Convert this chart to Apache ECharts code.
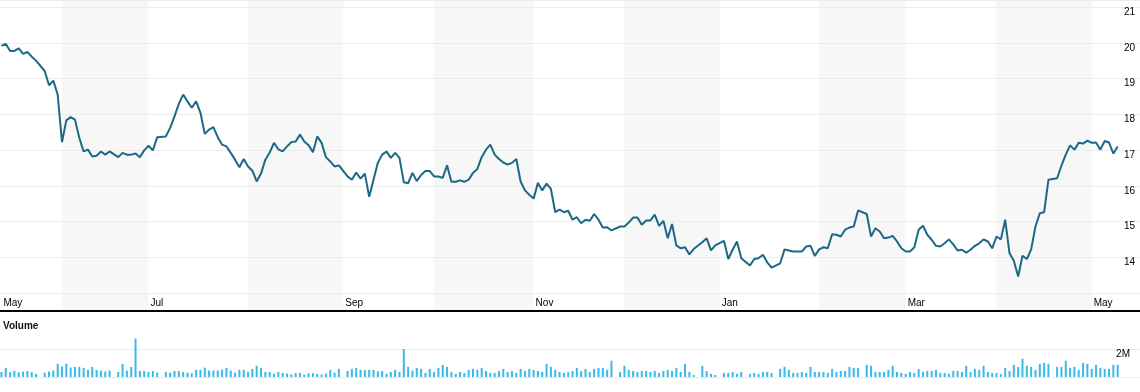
<!DOCTYPE html>
<html><head><meta charset="utf-8">
<script src="https://cdn.jsdelivr.net/npm/echarts@6/dist/echarts.min.js"></script>
<style>html,body{margin:0;padding:0;background:#fff}#c{width:1140px;height:392px}</style>
</head><body><div id="c"></div>
<script>
// x positions are weekday indices starting 2024-05-14 (holidays are null)
const shadedMonths = [[14,34],[57,79],[100,123],[144,166],[189,209],[230,252]];
const monthLabelIdx = [0,34,79,123,166,209,252];
const monthLabels = ['May','Jul','Sep','Nov','Jan','Mar','May'];
const priceTicks = [14,15,16,17,18,19,20,21];
const volumeTicks = {2: '2M'};

const price = [
19.91,19.97,19.77,19.77,19.84,19.69,19.74,19.61,19.50,null,
19.21,18.81,18.94,18.55,17.22,17.83,17.92,17.85,17.34,16.96,
17.01,16.82,16.84,16.96,16.87,16.96,null,16.80,16.92,16.87,
16.87,16.90,16.80,16.99,17.12,16.99,17.36,null,17.38,17.62,
17.94,18.29,18.55,18.36,18.18,18.36,18.04,17.45,17.57,17.64,
17.36,17.15,17.10,16.92,16.73,16.52,16.75,16.54,16.42,16.12,
16.34,16.73,16.93,17.20,17.02,16.96,17.10,17.22,17.24,17.43,
17.24,17.13,16.94,17.38,17.20,16.80,16.68,16.54,16.57,null,
16.26,16.17,16.37,16.20,16.34,15.69,16.17,16.64,16.87,16.96,
16.78,16.92,16.78,16.10,16.07,16.36,16.13,16.30,16.41,16.41,
16.26,16.26,16.22,16.57,16.11,16.11,16.15,16.11,16.17,16.36,
16.47,16.80,17.01,17.15,16.87,16.75,16.65,16.59,16.64,16.75,
16.12,15.87,15.75,15.64,16.08,15.87,16.06,15.91,15.26,15.33,
15.26,15.30,15.05,15.12,14.95,15.05,15.02,15.21,15.05,14.83,
14.84,14.75,null,14.86,14.86,14.97,15.11,15.11,14.91,15.03,
15.03,15.19,14.88,15.02,14.53,14.93,14.33,14.25,14.28,14.08,
14.23,null,14.42,14.53,14.19,14.33,null,14.46,13.95,14.21,
14.44,13.97,null,13.77,13.95,13.97,14.07,13.86,13.71,null,
13.83,14.22,14.19,14.16,14.16,14.16,14.30,14.32,14.04,14.22,
14.28,14.25,14.64,14.63,14.58,14.77,14.83,14.86,15.31,null,
15.21,14.58,14.81,14.72,14.53,14.55,14.60,14.44,14.25,14.16,
14.16,14.28,14.77,14.88,14.63,14.49,14.32,14.30,14.39,14.50,
14.36,14.19,14.21,14.13,14.21,14.32,14.39,14.50,14.44,14.25,
14.58,14.50,15.05,14.11,13.90,13.46,14.04,13.95,14.22,14.86,
15.23,15.26,16.17,null,16.21,16.56,16.87,17.13,17.01,17.20,
17.18,17.26,17.20,17.21,17.01,17.25,17.21,16.90,17.10
];

// volume in millions
const volume = [
0.36,0.65,0.34,0.43,0.34,0.39,0.43,0.36,0.22,null,
0.31,0.39,0.46,0.94,0.75,0.96,0.67,0.72,0.72,0.65,
0.51,0.72,0.51,0.46,0.39,0.46,null,0.36,0.94,0.46,
0.72,2.75,0.43,0.43,0.36,0.43,0.31,null,0.36,0.31,
0.43,0.43,0.36,0.31,0.27,0.51,0.51,0.67,0.46,0.46,
0.46,0.53,0.65,0.46,0.31,0.51,0.51,0.36,0.58,0.80,
0.65,0.36,0.36,0.24,0.36,0.29,0.24,0.19,0.29,0.29,
0.17,0.27,0.27,0.22,0.17,0.24,0.51,0.31,0.58,null,
0.43,0.58,0.65,0.51,0.51,0.51,0.51,0.41,0.43,0.22,
0.36,0.51,0.36,2.00,0.72,0.46,0.65,0.58,0.29,0.58,
0.36,0.65,0.87,0.72,0.36,0.22,0.36,0.29,0.51,0.58,
0.51,0.65,0.43,0.29,0.29,0.43,0.58,0.36,0.43,0.29,
0.58,0.43,0.58,0.51,0.43,0.36,0.94,0.72,0.51,0.36,
0.29,0.36,0.43,0.65,0.43,0.58,0.36,0.58,0.65,0.65,
0.51,1.16,null,0.36,0.80,0.51,0.43,0.36,0.43,0.43,
0.36,0.43,0.29,0.43,0.51,0.43,0.65,0.36,0.94,0.36,
0.14,null,0.80,0.43,0.22,0.14,null,0.29,0.29,0.36,
0.22,0.36,null,0.22,0.29,0.22,0.36,0.36,0.29,null,
0.58,0.72,0.51,0.29,0.29,0.36,0.29,0.72,0.36,0.36,
0.36,0.29,0.58,0.36,0.43,0.43,0.72,0.65,0.65,null,
0.87,0.80,0.36,0.36,0.36,0.51,0.80,0.36,0.29,0.22,
0.36,0.29,0.58,0.36,0.43,0.43,0.51,0.29,0.29,0.22,
0.43,0.43,0.36,0.80,0.36,0.58,0.51,0.80,0.36,0.29,
0.29,0.22,0.65,0.43,0.87,0.72,1.30,0.80,0.72,0.51,
0.94,1.01,0.94,null,0.72,0.72,1.16,0.65,0.72,0.51,
1.01,0.94,0.58,0.87,0.65,0.58,0.58,0.87,0.87
];

const XMIN = -0.33, XMAX = 263.16;
const FONT = '"Liberation Sans", Arial, sans-serif';
const hiddenX = (g) => ({gridIndex:g,type:'value',min:XMIN,max:XMAX,show:false});

const chart = echarts.init(document.getElementById('c'), null, {renderer:'canvas'});
chart.setOption({
  animation:false,
  textStyle:{fontFamily:FONT},
  title:{text:'Volume',left:3,top:321,padding:0,textStyle:{fontFamily:FONT,fontSize:10,fontWeight:'bold',color:'#111'}},
  grid:[
    {left:0,right:0,top:0,height:311},
    {left:0,right:0,top:7,height:286},
    {left:0,right:0,top:335,height:42}
  ],
  xAxis:[
    {gridIndex:0,type:'value',min:XMIN,max:XMAX,position:'bottom',z:20,
     axisLine:{lineStyle:{color:'#000',width:2}},axisTick:{show:false},splitLine:{show:false},
     axisLabel:{inside:true,margin:3,customValues:monthLabelIdx,align:'left',padding:[0,0,0,2],
       fontFamily:FONT,fontSize:10,color:'#000',
       formatter:(v)=>{const k=monthLabelIdx.indexOf(Math.round(v));return k>=0?monthLabels[k]:'';}}},
    {gridIndex:0,type:'value',min:XMIN,max:XMAX,position:'top',z:20,
     axisLine:{lineStyle:{color:'#ececec',width:1}},axisTick:{show:false},axisLabel:{show:false},splitLine:{show:false}},
    hiddenX(1),
    hiddenX(2)
  ],
  yAxis:[
    {gridIndex:0,type:'value',min:0,max:1,show:false},
    {gridIndex:1,type:'value',min:13,max:21,interval:1,position:'right',z:5,
     axisLine:{show:false},axisTick:{show:false},
     splitLine:{lineStyle:{color:'#ececec',width:1}},
     axisLabel:{inside:true,margin:5,verticalAlign:'top',fontFamily:FONT,fontSize:10,color:'#000',
       formatter:(v)=>priceTicks.includes(v)?String(v):''}},
    {gridIndex:2,type:'value',min:0,max:3,interval:2,position:'right',
     axisLine:{show:false},axisTick:{show:false},
     splitLine:{showMaxLine:false,lineStyle:{color:'#ececec',width:1}},
     axisLabel:{inside:true,margin:10,verticalAlign:'top',fontFamily:FONT,fontSize:10,color:'#000',
       formatter:(v)=>volumeTicks[v]||''}}
  ],
  series:[
    {type:'line',xAxisIndex:0,yAxisIndex:0,data:[],z:-10,silent:true,
     markArea:{silent:true,z:-10,itemStyle:{color:'#f7f7f7'},
       data:shadedMonths.map(([a,b])=>[{xAxis:a},{xAxis:b}])}},
    {type:'line',xAxisIndex:2,yAxisIndex:1,data:price.map((v,i)=>[i,v]),z:10,
     showSymbol:false,connectNulls:true,
     lineStyle:{color:'#1b6985',width:2},itemStyle:{color:'#1b6985'}},
    {type:'bar',xAxisIndex:3,yAxisIndex:2,data:volume.map((v,i)=>[i,v]),
     barWidth:2,itemStyle:{color:'#3bb9e8'}}
  ]
});
</script></body></html>
